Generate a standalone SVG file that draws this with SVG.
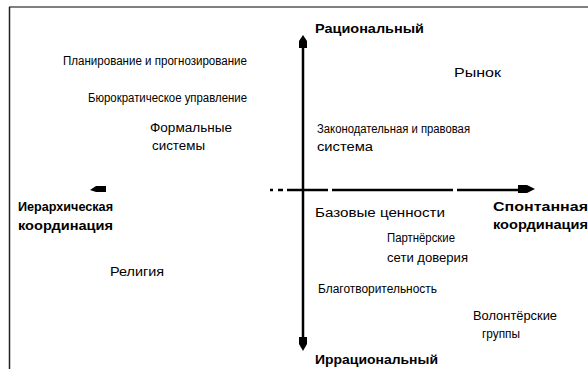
<svg xmlns="http://www.w3.org/2000/svg" width="588" height="369" viewBox="0 0 588 369">
<style>
.t{font-family:"Liberation Sans",Arial,sans-serif;font-size:12px;fill:#000}
.b{font-family:"Liberation Sans",Arial,sans-serif;font-size:12px;font-weight:bold;fill:#000}
.ax{stroke:#000;stroke-width:2.5;fill:none}
.ah{fill:#000;stroke:none}
</style>
<rect x="0" y="0" width="588" height="369" fill="#fff"/>
<g id="frame">
<line x1="9" y1="7" x2="588" y2="7" stroke="#808080" stroke-width="2"/>
<line x1="9.5" y1="7" x2="9.5" y2="369" stroke="#222" stroke-width="1.5"/>
</g>
<g id="connectors">
<line class="ax" x1="303" y1="46" x2="303" y2="338"/>
<polygon class="ah" points="303,35 307,41 307,48 299,48 299,41"/>
<polygon class="ah" points="303,351 307,344 307,337 299,337 299,344"/>
<g stroke="#000" stroke-width="2.5">
<line x1="270" y1="190" x2="273" y2="190"/>
<line x1="278" y1="190" x2="283" y2="190"/>
<line x1="287" y1="190" x2="328" y2="190"/>
<line x1="332" y1="190" x2="453" y2="190"/>
<line x1="457" y1="190" x2="522" y2="190"/>
</g>
<polygon class="ah" points="535,189 527,185 518,185 518,193 527,193"/>
<polygon class="ah" points="90,190 96,186 106,186 106,192 96,192"/>
</g>
<g id="axis-top"><text class="b" x="315" y="33" textLength="109" lengthAdjust="spacingAndGlyphs">Рациональный</text></g>
<g id="axis-bottom"><text class="b" x="315" y="364" textLength="123" lengthAdjust="spacingAndGlyphs">Иррациональный</text></g>
<g id="axis-left">
<text class="b" x="18" y="211" textLength="95" lengthAdjust="spacingAndGlyphs">Иерархическая</text>
<text class="b" x="18" y="230" textLength="95" lengthAdjust="spacingAndGlyphs">координация</text>
</g>
<g id="axis-right">
<text class="b" x="493" y="211" textLength="95" lengthAdjust="spacingAndGlyphs">Спонтанная</text>
<text class="b" x="493" y="229" textLength="95" lengthAdjust="spacingAndGlyphs">координация</text>
</g>
<g id="n1"><text class="t" x="63" y="65" textLength="184" lengthAdjust="spacingAndGlyphs">Планирование и прогнозирование</text></g>
<g id="n2"><text class="t" x="88" y="102" textLength="159" lengthAdjust="spacingAndGlyphs">Бюрократическое управление</text></g>
<g id="n3">
<text class="t" x="150" y="132" textLength="82" lengthAdjust="spacingAndGlyphs">Формальные</text>
<text class="t" x="152" y="150" textLength="53" lengthAdjust="spacingAndGlyphs">системы</text>
</g>
<g id="n4"><text class="t" x="454" y="77" textLength="47" lengthAdjust="spacingAndGlyphs">Рынок</text></g>
<g id="n5">
<text class="t" x="317" y="133" textLength="153" lengthAdjust="spacingAndGlyphs">Законодательная и правовая</text>
<text class="t" x="317" y="151" textLength="56" lengthAdjust="spacingAndGlyphs">система</text>
</g>
<g id="n6"><text class="t" x="110" y="276" textLength="54" lengthAdjust="spacingAndGlyphs">Религия</text></g>
<g id="n7"><text class="t" x="315" y="217" textLength="130" lengthAdjust="spacingAndGlyphs">Базовые ценности</text></g>
<g id="n8">
<text class="t" x="387" y="242" textLength="68" lengthAdjust="spacingAndGlyphs">Партнёрские</text>
<text class="t" x="387" y="262" textLength="81" lengthAdjust="spacingAndGlyphs">сети доверия</text>
</g>
<g id="n9"><text class="t" x="318" y="293" textLength="119" lengthAdjust="spacingAndGlyphs">Благотворительность</text></g>
<g id="n10">
<text class="t" x="473" y="320" textLength="84" lengthAdjust="spacingAndGlyphs">Волонтёрские</text>
<text class="t" x="482" y="338" textLength="38" lengthAdjust="spacingAndGlyphs">группы</text>
</g>
</svg>
